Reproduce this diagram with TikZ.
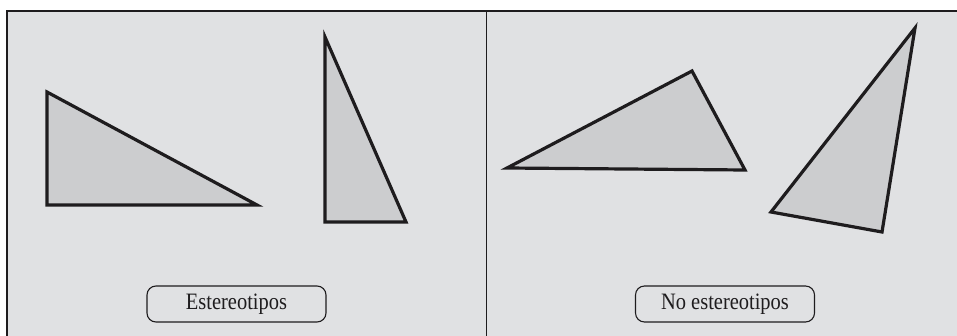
\documentclass[tikz,border=0pt]{standalone}
\usepackage{fontspec}
\setmainfont{Liberation Serif}
\newfontfamily\rotulo[FakeStretch=0.87]{Liberation Serif}
\definecolor{fondo}{RGB}{224,225,227}
\definecolor{relleno}{RGB}{204,205,207}
\definecolor{linea}{RGB}{30,28,30}

\begin{document}
\begin{tikzpicture}[x=1pt, y=-1pt, linea,
    triangulo/.style={line width=3.2pt, fill=relleno},
    etiqueta/.style={draw, rounded corners=9pt, line width=1.1pt,
        minimum width=179pt, minimum height=36pt,
        font=\rotulo\fontsize{23.5}{25}\selectfont},
]
\useasboundingbox (0,0) rectangle (957,336);

% Rahmen
\fill[fondo] (7,11) rectangle (957,336);
\draw[line width=1.5pt] (7,336) -- (7,11) -- (957,11);
\draw[line width=1pt] (486,11) -- (486,336);

% Estereotipos
\draw[triangulo] (47,92) -- (47,205) -- (257,205) -- cycle;
\draw[triangulo] (325,37) -- (325,222) -- (406,222) -- cycle;

\node[etiqueta] (estereo) at (236.5,304) {Estereotipos};

% No estereotipos
\draw[triangulo] (507,168) -- (692,71) -- (745,170) -- cycle;
\draw[triangulo] (915,28) -- (771,212) -- (882,232) -- cycle;

\node[etiqueta] (noestereo) at (725,304) {No estereotipos};

\end{tikzpicture}
\end{document}
